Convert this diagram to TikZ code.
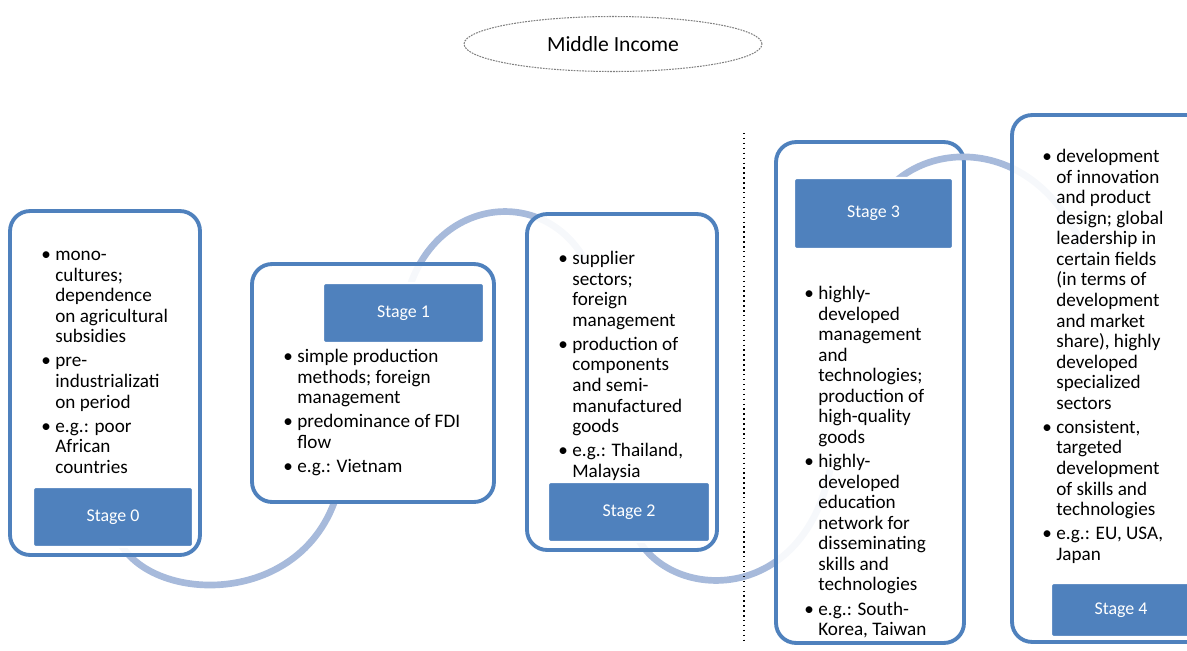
\documentclass[tikz,border=0pt]{standalone}
\usepackage{fontspec}
\setmainfont{Carlito}
\usepackage{tikz}
\usetikzlibrary{shapes.geometric,backgrounds}
\definecolor{stageblue}{RGB}{79,129,189}
\definecolor{arcblue}{RGB}{167,186,219}
\newcommand{\itm}{\leavevmode\llap{\textbullet\hspace{2.5pt}}\vphantom{Ag}}

\begin{document}
\begin{tikzpicture}[x=0.02cm, y=-0.02cm, font=\fontsize{10.9}{11.7}\selectfont,
  stagebox/.style={draw=stageblue, line width=2.2pt, rounded corners=0.4cm, fill=white, fill opacity=0.9},
  stagelabel/.style={fill=stageblue, draw=white, line width=1.2pt, rounded corners=1.5pt, text=white,
    font=\fontsize{10.2}{12}\selectfont},
  itemtext/.style={anchor=north west, align=left, inner sep=0pt},
  flowarc/.style={draw=arcblue, line width=3.8pt}]
\useasboundingbox (0,0) rectangle (1187,650);
% title
\node[ellipse, draw=gray, dash pattern=on 1pt off 0.6pt, line width=0.6pt, minimum width=5.96cm, minimum height=1.1cm,
  font=\fontsize{12.3}{14}\selectfont] (title) at (613,44) {Middle Income};
% divider
\coordinate (divtop) at (744,133);
\coordinate (divbot) at (744,640);
\draw[dotted, line width=0.8pt] (divtop) -- (divbot);
% bullet texts
\node[itemtext] (txt0) at (55,248) {\itm mono-\\cultures;\\dependence\\on agricultural\\subsidies\\[2pt]
  \itm pre-\\industrializati\\on period\\[2pt]
  \itm e.g.: poor\\African\\countries};
\node[itemtext] (txt1) at (297,349) {\itm simple production\\methods; foreign\\management\\[2pt]
  \itm predominance of FDI\\flow\\[2pt]
  \itm e.g.: Vietnam};
\node[itemtext] (txt2) at (572,251) {\itm supplier\\sectors;\\foreign\\management\\[2pt]
  \itm production of\\components\\and semi-\\manufactured\\goods\\[2pt]
  \itm e.g.: Thailand,\\Malaysia};
\node[itemtext] (txt3) at (818,286) {\itm highly-\\developed\\management\\and\\technologies;\\production of\\high-quality\\goods\\[2pt]
  \itm highly-\\developed\\education\\network for\\disseminating\\skills and\\technologies\\[2pt]
  \itm e.g.: South-\\Korea, Taiwan};
\node[itemtext] (txt4) at (1056,149) {\itm development\\of innovation\\and product\\design; global\\leadership in\\certain fields\\(in terms of\\development\\and market\\share), highly\\developed\\specialized\\sectors\\[2pt]
  \itm consistent,\\targeted\\development\\of skills and\\technologies\\[2pt]
  \itm e.g.: EU, USA,\\Japan};
% stage labels
\node[stagelabel, minimum width=3.2cm, minimum height=1.2cm] (stage0) at (113,517) {Stage 0};
\node[stagelabel, minimum width=3.22cm, minimum height=1.2cm] (stage1) at (403.5,313) {Stage 1};
\node[stagelabel, minimum width=3.24cm, minimum height=1.2cm] (stage2) at (629,512) {Stage 2};
\node[stagelabel, minimum width=3.18cm, minimum height=1.42cm] (stage3) at (873.5,213.5) {Stage 3};
\node[stagelabel, minimum width=2.8cm, minimum height=1.08cm] (stage4) at (1121,610) {Stage 4};
% boxes and flow arcs, under the texts
\coordinate (a1) at (334,503);
\coordinate (b2) at (585,260);
\coordinate (c3) at (830,470);
\coordinate (d4) at (1090,265);
\begin{scope}[on background layer]
\draw[flowarc] (stage0.center) .. controls (115,600) and (290,620) .. (a1);
\draw[flowarc] (stage1.center) .. controls (420,200) and (540,180) .. (b2);
\draw[flowarc] (stage2.center) .. controls (640,600) and (800,620) .. (c3);
\node[stagebox, minimum width=3.8cm, minimum height=6.88cm] (box0) at (105,383) {};
\node[stagebox, minimum width=4.84cm, minimum height=4.76cm] (box1) at (373,383) {};
\node[stagebox, minimum width=3.8cm, minimum height=6.72cm] (box2) at (622,382) {};
\node[stagebox, minimum width=3.76cm, minimum height=10.02cm] (box3) at (870,392.5) {};
\draw[flowarc] (stage3.center) .. controls (900,140) and (1040,120) .. (d4);
\node[stagebox, minimum width=4.4cm, minimum height=10.54cm] (box4) at (1122,378.5) {};
\end{scope}
\end{tikzpicture}
\end{document}
